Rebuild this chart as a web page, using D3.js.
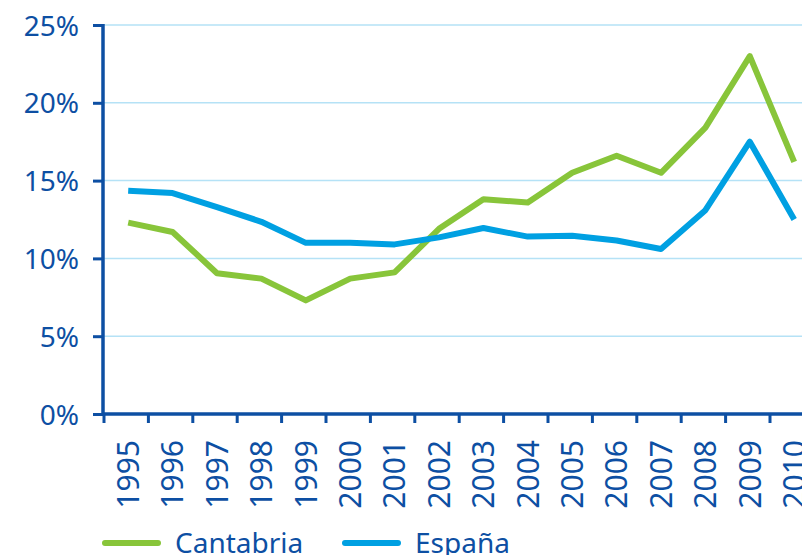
<!DOCTYPE html>
<html>
<head>
<meta charset="utf-8">
<script src="https://cdn.jsdelivr.net/npm/d3@7"></script>
<style>
  body { margin: 0; background: #fff; }
  svg text { font-family: "Noto Sans", "Open Sans", sans-serif; fill: #0d4fa3; }
</style>
</head>
<body>
<div id="chart"></div>
<script>
var years = ["1995", "1996", "1997", "1998", "1999", "2000", "2001", "2002",
  "2003", "2004", "2005", "2006", "2007", "2008", "2009", "2010"];
var cantabria = [12.3, 11.7, 9.05, 8.7, 7.3, 8.7, 9.1, 11.9, 13.8, 13.6, 15.5, 16.6, 15.5, 18.4, 23.0, 16.2];
var espana = [14.35, 14.2, 13.3, 12.35, 11.0, 11.0, 10.9, 11.35, 11.95, 11.4, 11.45, 11.15, 10.6, 13.1, 17.5, 12.5];
var yTicks = [0, 5, 10, 15, 20, 25];
var seriesNames = ["Cantabria", "España"];
var seriesColors = ["#88c53a", "#00a0e2"];

function drawChart() {
  var width = 802, height = 555;
  var axisColor = "#0d4fa3";
  var marginLeft = 103, axisBottom = 414, axisTop = 25;

  var svg = d3.select("#chart").append("svg")
    .attr("width", width).attr("height", height);

  var x = d3.scaleBand().domain(years).range([marginLeft, marginLeft + 16 * 44.4]);
  var y = d3.scaleLinear().domain([0, 25]).range([axisBottom, axisTop]);

  /// grid lines
  svg.append("g").selectAll("line").data(yTicks.slice(1)).enter()
    .append("line")
    .attr("x1", marginLeft).attr("x2", width)
    .attr("y1", function (d) { return y(d); })
    .attr("y2", function (d) { return y(d); })
    .attr("stroke", "#b5e2f6").attr("stroke-width", 1.5);

  /// y axis
  var yAxis = d3.axisLeft(y).tickValues(yTicks).tickSize(10).tickPadding(14)
    .tickFormat(function (d) { return d + "%"; });
  var gy = svg.append("g").attr("transform", "translate(" + marginLeft + ",0)").call(yAxis);
  gy.select(".domain").remove();
  gy.selectAll(".tick line").attr("stroke", axisColor).attr("stroke-width", 3);
  gy.selectAll(".tick text").attr("font-size", 28).attr("font-family", null)
    .attr("dy", "0.36em").attr("fill", axisColor);
  gy.append("line").attr("x1", 0).attr("x2", 0).attr("y1", axisTop - 1).attr("y2", axisBottom + 1)
    .attr("stroke", axisColor).attr("stroke-width", 3.5);

  /// x axis
  var gx = svg.append("g").attr("transform", "translate(0," + axisBottom + ")");
  gx.append("line").attr("x1", marginLeft).attr("x2", width).attr("y1", 0).attr("y2", 0)
    .attr("stroke", axisColor).attr("stroke-width", 3.5);
  gx.selectAll("line.tk").data(years).enter().append("line")
    .attr("class", "tk")
    .attr("x1", function (d) { return x(d) + 1; })
    .attr("x2", function (d) { return x(d) + 1; })
    .attr("y1", 0).attr("y2", 9)
    .attr("stroke", axisColor).attr("stroke-width", 3);
  gx.selectAll("text").data(years).enter().append("text")
    .attr("transform", function (d) {
      return "translate(" + (x(d) + x.bandwidth() / 2 + 3) + ",26) rotate(-90)";
    })
    .attr("text-anchor", "end")
    .attr("dy", "0.36em")
    .attr("font-size", 30)
    .text(function (d) { return d; });

  /// series lines
  var line = d3.line()
    .x(function (d, i) { return x(years[i]) + x.bandwidth() / 2 + 3; })
    .y(function (d) { return y(d); });

  [cantabria, espana].forEach(function (s, i) {
    svg.append("path").datum(s)
      .attr("d", line)
      .attr("fill", "none")
      .attr("stroke", seriesColors[i])
      .attr("stroke-width", 6)
      .attr("stroke-linejoin", "round");
  });

  /// legend
  var legendX = [105, 345];
  seriesNames.forEach(function (name, i) {
    var g = svg.append("g").attr("transform", "translate(" + legendX[i] + ",543)");
    g.append("line").attr("x1", 0).attr("x2", 53).attr("y1", 0).attr("y2", 0)
      .attr("stroke", seriesColors[i]).attr("stroke-width", 6).attr("stroke-linecap", "round");
    g.append("text").attr("x", 70).attr("y", 0).attr("dy", "0.36em")
      .attr("font-size", 28).text(name);
  });
}

drawChart();
</script>
</body>
</html>
